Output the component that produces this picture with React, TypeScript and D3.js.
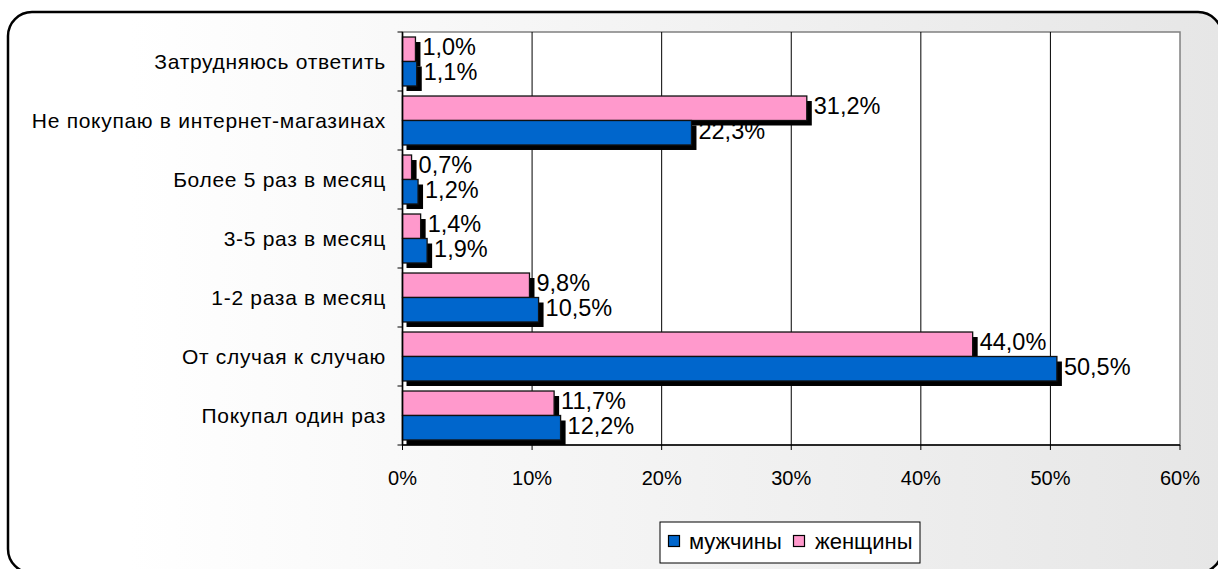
import React from "react";
import * as d3 from "d3";

const categories = [
  "Затрудняюсь ответить",
  "Не покупаю в интернет-магазинах",
  "Более 5 раз в месяц",
  "3-5 раз в месяц",
  "1-2 раза в месяц",
  "От случая к случаю",
  "Покупал один раз",
];
const women = [1.0, 31.2, 0.7, 1.4, 9.8, 44.0, 11.7];
const men = [1.1, 22.3, 1.2, 1.9, 10.5, 50.5, 12.2];
const seriesNames = ["женщины", "мужчины"];
const seriesColors = ["#FF99CC", "#0066CC"];
const xTicks = [0, 10, 20, 30, 40, 50, 60];

const W = 1218;
const H = 569;
const plot = { left: 402.5, right: 1180, top: 32, bottom: 445 };

const fmt = (v: number) => v.toFixed(1).replace(".", ",") + "%";

export default function App() {
  const x = d3.scaleLinear().domain([0, 60]).range([plot.left, plot.right]);
  const y = d3
    .scaleBand<string>()
    .domain(categories)
    .range([plot.top, plot.bottom])
    .paddingInner(0.17)
    .paddingOuter(0.085);
  const sub = d3.scaleBand<string>().domain(seriesNames).range([0, y.bandwidth()]);
  const series = [women, men];
  const step = y.step();
  const shadow = 5;

  const bars: { cat: string; s: number; v: number }[] = [];
  categories.forEach((c, i) => {
    series.forEach((arr, s) => bars.push({ cat: c, s, v: arr[i] }));
  });

  const font = "'Liberation Sans', Arial, sans-serif";

  return (
    <svg
      width={W}
      height={H}
      style={{ position: "absolute", left: 0, top: 0, fontFamily: font }}
    >
      <defs>
        <linearGradient id="bg" x1="0" y1="0" x2="1" y2="0">
          <stop offset="0" stopColor="#ffffff" />
          <stop offset="0.1" stopColor="#ffffff" />
          <stop offset="1" stopColor="#e6e6e6" />
        </linearGradient>
      </defs>
      <rect
        x={8}
        y={12}
        width={1214}
        height={561}
        rx={24}
        ry={24}
        fill="url(#bg)"
        stroke="#000"
        strokeWidth={2.5}
      />
      <rect
        x={plot.left}
        y={plot.top}
        width={plot.right - plot.left}
        height={plot.bottom - plot.top}
        fill="#fff"
        stroke="#808080"
        strokeWidth={1.5}
      />
      {xTicks.slice(1, -1).map((t) => (
        <line
          key={"g" + t}
          x1={x(t)}
          x2={x(t)}
          y1={plot.top}
          y2={plot.bottom}
          stroke="#000"
          strokeWidth={1}
        />
      ))}
      {bars.map((b, i) => (
        <rect
          key={"sh" + i}
          x={x(0) + shadow - 1}
          y={(y(b.cat) as number) + (sub(seriesNames[b.s]) as number) + shadow}
          width={x(b.v) - x(0) + 1}
          height={sub.bandwidth()}
          fill="#000"
        />
      ))}
      {bars.map((b, i) => (
        <rect
          key={"b" + i}
          x={x(0)}
          y={(y(b.cat) as number) + (sub(seriesNames[b.s]) as number)}
          width={x(b.v) - x(0)}
          height={sub.bandwidth()}
          fill={seriesColors[b.s]}
          stroke="#111"
          strokeWidth={1.3}
        />
      ))}
      <line x1={plot.left} x2={plot.left} y1={plot.top} y2={plot.bottom} stroke="#000" strokeWidth={1.5} />
      <line x1={plot.left} x2={plot.right} y1={plot.bottom} y2={plot.bottom} stroke="#000" strokeWidth={1.5} />
      {xTicks.map((t) => (
        <g key={"xt" + t}>
          <line x1={x(t)} x2={x(t)} y1={plot.bottom} y2={plot.bottom + 5} stroke="#000" strokeWidth={1} />
          <text x={x(t)} y={485} textAnchor="middle" fontSize={20} fill="#000">
            {t + "%"}
          </text>
        </g>
      ))}
      {d3.range(categories.length + 1).map((i) => {
        const yy = plot.top + i * step;
        return (
          <line key={"yt" + i} x1={plot.left - 5} x2={plot.left} y1={yy} y2={yy} stroke="#000" strokeWidth={1} />
        );
      })}
      {categories.map((c) => (
        <text
          key={"cl" + c}
          x={386}
          y={(y(c) as number) + y.bandwidth() / 2 + 7}
          textAnchor="end"
          fontSize={21}
          letterSpacing={0.7}
          fill="#000"
        >
          {c}
        </text>
      ))}
      {bars.map((b, i) => (
        <text
          key={"dl" + i}
          x={x(b.v) + 7}
          y={(y(b.cat) as number) + (sub(seriesNames[b.s]) as number) + sub.bandwidth() / 2 + 5.8}
          fontSize={23.5}
          fill="#000"
        >
          {fmt(b.v)}
        </text>
      ))}
      <rect x={660} y={522} width={260} height={41} fill="#fff" stroke="#000" strokeWidth={1} />
      <rect x={668.5} y={535.5} width={11} height={11} fill={seriesColors[1]} stroke="#000" strokeWidth={1.2} />
      <text x={689} y={549} fontSize={22} fill="#000">
        {seriesNames[1]}
      </text>
      <rect x={793.5} y={535.5} width={11} height={11} fill={seriesColors[0]} stroke="#000" strokeWidth={1.2} />
      <text x={815} y={549} fontSize={22} fill="#000">
        {seriesNames[0]}
      </text>
    </svg>
  );
}
